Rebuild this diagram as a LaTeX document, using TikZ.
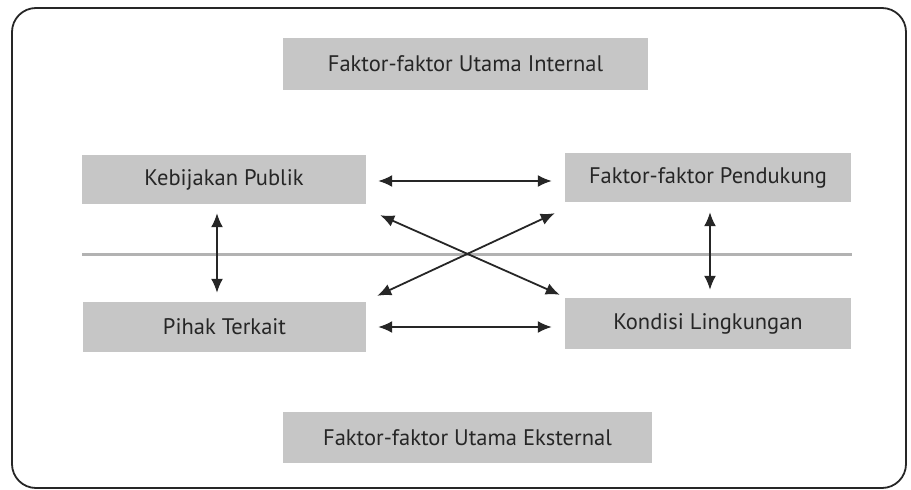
\documentclass[tikz,border=0pt]{standalone}
\usepackage{fontspec}
\setmainfont{PT Sans}
\usetikzlibrary{arrows.meta}
\definecolor{boxgray}{RGB}{198,198,198}
\definecolor{inkgray}{RGB}{38,38,38}
\definecolor{rulegray}{RGB}{178,178,178}
\begin{document}
\begin{tikzpicture}[x=1pt,y=-1pt,
  factor/.style={fill=boxgray, draw=none, text=inkgray, inner sep=0pt,
    font=\fontsize{22.5}{26}\selectfont},
  link/.style={inkgray, line width=1.8pt,
    {Latex[length=14pt,width=12pt]}-{Latex[length=14pt,width=12pt]}}]
\useasboundingbox (0,0) rectangle (911,490);
% outer frame
\draw[inkgray, line width=1.8pt, rounded corners=24pt] (12,8) rectangle (906,488);

% factor boxes
\node[factor, minimum width=365pt, minimum height=52pt] (internal) at (465.5,64) {Faktor-faktor Utama Internal};
\node[factor, minimum width=284pt, minimum height=49pt] (kp) at (224,179.5) {Kebijakan Publik};
\node[factor, minimum width=286pt, minimum height=49pt] (fp) at (708,177.5) {Faktor-faktor Pendukung};
\node[factor, minimum width=283pt, minimum height=50pt] (pt) at (224.5,327) {Pihak Terkait};
\node[factor, minimum width=286pt, minimum height=51pt] (kl) at (708,323.5) {Kondisi Lingkungan};
\node[factor, minimum width=369pt, minimum height=51pt] (ext) at (467.5,437.5) {Faktor-faktor Utama Eksternal};

% dividing rule between the two rows
\draw[rulegray, line width=3pt] (82,254) -- (852,254);

% links
\draw[link] ([xshift=12pt,yshift=-1.5pt]kp.east) -- ([xshift=-13pt,yshift=-1.5pt]kp.east -| fp.west);
\draw[link] ([xshift=12pt]pt.east) -- ([xshift=-13pt]pt.east -| kl.west);
\draw[link] ([xshift=-7pt,yshift=-9pt]kp.south) -- ([xshift=-7.5pt,yshift=9pt]pt.north);
\draw[link] ([xshift=2pt,yshift=-10pt]fp.south) -- ([xshift=2pt,yshift=8pt]kl.north);
\draw[link] ([xshift=14pt,yshift=-11pt]kp.south east) -- ([xshift=-5pt,yshift=3pt]kl.north west);
\draw[link] ([xshift=11pt,yshift=6pt]pt.north east) -- ([xshift=-10pt,yshift=-11pt]fp.south west);
\end{tikzpicture}
\end{document}
